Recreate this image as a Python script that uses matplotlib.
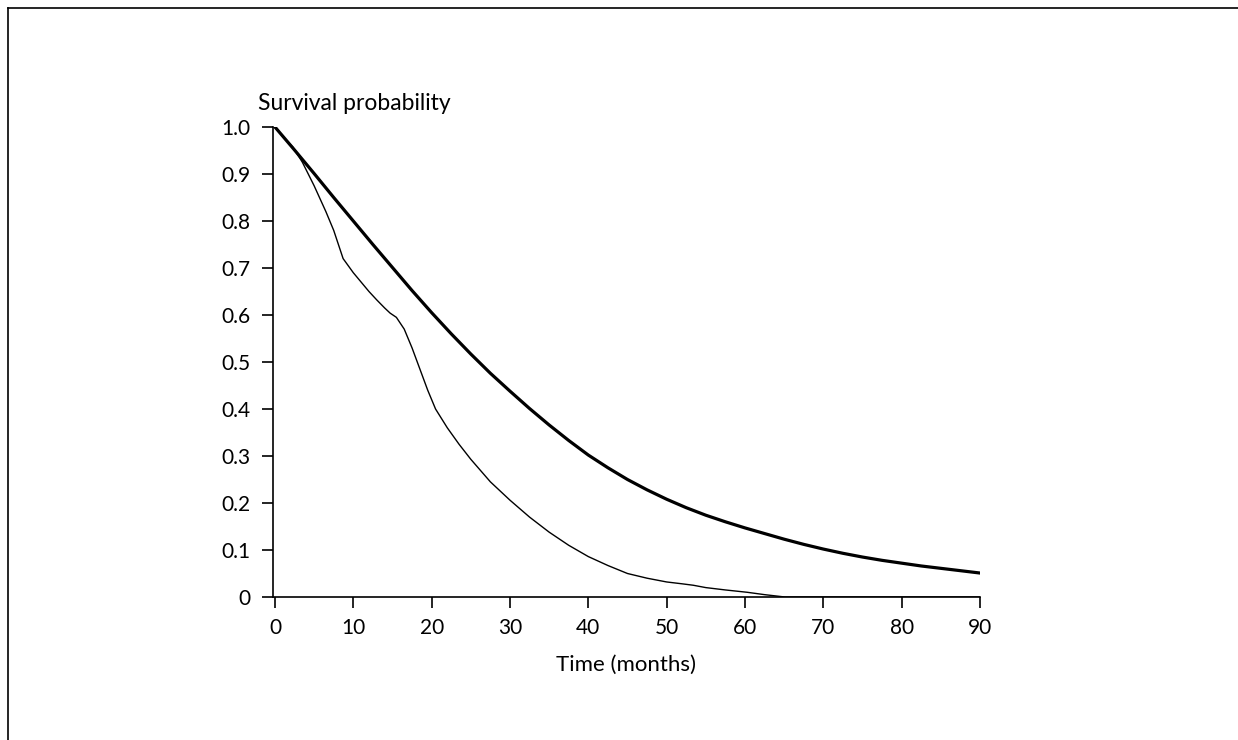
import matplotlib
matplotlib.use('Agg')
import matplotlib.pyplot as plt
from matplotlib.lines import Line2D

plt.rcParams['font.family'] = ['Lato', 'DejaVu Sans']

# Survival curves
time_thick = [0, 2.5, 5, 7.5, 10, 12.5, 15, 17.5, 20, 22.5, 25, 27.5, 30, 32.5, 35, 37.5, 40,
              42.5, 45, 47.5, 50, 52.5, 55, 57.5, 60, 62.5, 65, 67.5, 70, 72.5, 75, 77.5, 80,
              82.5, 85, 87.5, 90]
surv_thick = [1.0, 0.951, 0.901, 0.85, 0.80, 0.75, 0.701, 0.652, 0.605, 0.56, 0.517, 0.476, 0.438,
              0.401, 0.366, 0.333, 0.302, 0.275, 0.25, 0.228, 0.208, 0.19, 0.174, 0.16, 0.147,
              0.135, 0.123, 0.112, 0.102, 0.093, 0.085, 0.078, 0.072, 0.066, 0.061, 0.056, 0.051]

time_thin = [0, 1, 2.3, 3.5, 5, 6.5, 7.5, 8.7, 10, 11, 12, 13, 14, 14.7, 15.5, 16.5, 17.5, 18.5,
             19.5, 20.5, 22, 23.5, 25, 27.5, 30, 32.5, 35, 37.5, 40, 42.5, 45, 47.5, 50, 52,
             53.4, 55, 57.5, 60.3, 62.5, 65.1, 90]
surv_thin = [1.0, 0.98, 0.957, 0.925, 0.875, 0.82, 0.78, 0.72, 0.69, 0.67, 0.65, 0.632, 0.615,
             0.604, 0.595, 0.57, 0.53, 0.485, 0.44, 0.40, 0.36, 0.325, 0.293, 0.245, 0.206, 0.17,
             0.138, 0.11, 0.086, 0.067, 0.05, 0.04, 0.032, 0.028, 0.025, 0.02, 0.015, 0.01,
             0.005, 0.0, 0.0]

x_ticks = [0, 10, 20, 30, 40, 50, 60, 70, 80, 90]
y_ticks = [0, 0.1, 0.2, 0.3, 0.4, 0.5, 0.6, 0.7, 0.8, 0.9, 1.0]
y_tick_labels = ['0', '0.1', '0.2', '0.3', '0.4', '0.5', '0.6', '0.7', '0.8', '0.9', '1.0']

fig = plt.figure(figsize=(12.38, 7.40), dpi=100)
ax = fig.add_axes([273 / 1238, 1 - 597 / 740, (980 - 273) / 1238, (597 - 127) / 740])

ax.plot(time_thick, surv_thick, color='black', linewidth=2.3, solid_joinstyle='round')
ax.plot(time_thin, surv_thin, color='black', linewidth=1.0, solid_joinstyle='round')

ax.set_xlim(-0.25, 90)
ax.set_ylim(0, 1.0)
ax.set_xticks(x_ticks)
ax.set_yticks(y_ticks)
ax.set_yticklabels(y_tick_labels)

for side in ['top', 'right']:
    ax.spines[side].set_visible(False)
for side in ['left', 'bottom']:
    ax.spines[side].set_linewidth(1.2)

ax.tick_params(axis='both', direction='out', length=8, width=1.2, labelsize=15, colors='black')
ax.tick_params(axis='y', pad=8)
ax.tick_params(axis='x', pad=7)

ax.set_xlabel('Time (months)', fontsize=16, labelpad=12)
fig.text(258 / 1238, 1 - 104 / 740, 'Survival probability', fontsize=16.5, ha='left', va='center')

# frame around the figure (top and left edges)
fig.add_artist(Line2D([8 / 1238, 1], [1 - 8 / 740, 1 - 8 / 740], transform=fig.transFigure, color='black', linewidth=1.2))
fig.add_artist(Line2D([8 / 1238, 8 / 1238], [0, 1 - 8 / 740], transform=fig.transFigure, color='black', linewidth=1.2))

fig.savefig('out.png', dpi=100, facecolor='white')
